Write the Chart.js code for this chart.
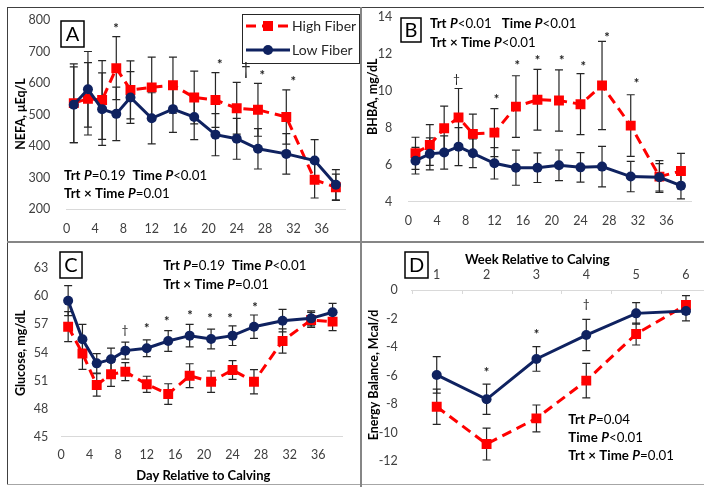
<!DOCTYPE html>
<html>
<head>
<meta charset="utf-8">
<script src="https://cdn.jsdelivr.net/npm/chart.js@4.4.0/dist/chart.umd.min.js"></script>
<style>
  html, body { margin: 0; padding: 0; background: #fff; }
  #wrap { position: relative; width: 704px; height: 487px; overflow: hidden; background: #fff; }
  canvas { position: absolute; }
  .ln { position: absolute; z-index: 5; }
</style>
</head>
<body>
<div id="wrap">
  <canvas id="cA" width="352" height="233" style="left:8px;top:8px"></canvas>
  <canvas id="cB" width="342" height="233" style="left:362px;top:8px"></canvas>
  <canvas id="cC" width="352" height="241" style="left:8px;top:243px"></canvas>
  <canvas id="cD" width="370" height="241" style="left:362px;top:243px"></canvas>
  <div class="ln" style="left:7px;top:7px;width:697px;height:1px;background:#404040"></div>
  <div class="ln" style="left:7px;top:7px;width:1px;height:478px;background:#404040"></div>
  <div class="ln" style="left:7px;top:484px;width:697px;height:1px;background:#a6a6a6"></div>
  <div class="ln" style="left:360px;top:7px;width:2px;height:480px;background:#868686"></div>
  <div class="ln" style="left:7px;top:241px;width:697px;height:2px;background:#868686"></div>
</div>
<script>
// shared x values
const dayTicks = [0, 4, 8, 12, 16, 20, 24, 28, 32, 36];
const days = [1, 3, 5, 7, 9, 12, 15, 18, 21, 24, 27, 31, 35, 38];
const weeks = ['1', '2', '3', '4', '5', '6'];
const seriesNames = ['High Fiber', 'Low Fiber'];

// A: NEFA
const nefaHigh = [536, 550, 546, 647, 578, 586, 593, 554, 546, 520, 515, 492, 293, 269];
const nefaHighSe = [125, 115, 125, 100, 92, 96, 89, 84, 87, 82, 84, 86, 58, 42];
const nefaLow = [531, 580, 517, 502, 554, 488, 517, 492, 436, 423, 391, 375, 354, 277];
const nefaLowSe = [120, 120, 115, 85, 82, 81, 74, 72, 67, 65, 64, 64, 66, 48];
const nefaTicks = [200, 300, 400, 500, 600, 700, 800];
const nefaSigX = [6.96, 21.6, 25.3, 27.6, 32];
const nefaSigY = [781, 668, 642, 631, 612];
const nefaSig = ['*', '*', '†', '*', '*'];

// B: BHBA
const bhbaHigh = [6.62, 7.07, 7.98, 8.56, 7.67, 7.74, 9.15, 9.52, 9.48, 9.28, 10.29, 8.12, 5.36, 5.66];
const bhbaHighSe = [0.87, 1.1, 1.2, 1.57, 1.07, 1.3, 1.67, 1.64, 1.66, 1.65, 2.39, 1.67, 0.86, 0.96];
const bhbaLow = [6.22, 6.59, 6.66, 6.98, 6.62, 6.08, 5.84, 5.84, 5.97, 5.86, 5.9, 5.36, 5.32, 4.87];
const bhbaLowSe = [0.72, 0.87, 0.9, 1.03, 0.78, 0.85, 0.95, 0.8, 0.83, 0.8, 1.1, 0.82, 0.74, 0.72];
const bhbaTicks = [4, 6, 8, 10, 12, 14];
const bhbaSigX = [6.7, 12.3, 15.2, 18, 21.4, 24.4, 27.7, 31.8];
const bhbaSigY = [10.65, 9.7, 11.54, 11.78, 11.78, 11.47, 13.04, 10.55];
const bhbaSig = ['†', '*', '*', '*', '*', '*', '*', '*'];

// C: glucose
const gluHigh = [56.76, 53.9, 50.53, 51.67, 51.95, 50.6, 49.56, 51.52, 50.88, 52.13, 50.88, 55.23, 57.48, 57.3];
const gluHighSe = [1.6, 1.7, 1.2, 1.3, 0.96, 0.86, 1.1, 1.28, 1.14, 1.0, 1.3, 1.3, 0.8, 0.96];
const gluLow = [59.54, 55.41, 52.84, 53.27, 54.2, 54.45, 55.23, 55.8, 55.44, 55.8, 56.76, 57.4, 57.65, 58.3];
const gluLowSe = [1.6, 1.6, 1.05, 1.2, 0.9, 0.9, 1.1, 1.2, 1.05, 1.05, 1.25, 1.2, 0.8, 0.95];
const gluTicks = [45, 48, 51, 54, 57, 60, 63];
const gluSigX = [8.96, 11.99, 14.8, 18.05, 20.85, 23.65, 27.15];
const gluSigY = [56.41, 56.87, 57.65, 58.19, 57.9, 57.9, 59.15];
const gluSig = ['†', '*', '*', '*', '*', '*', '*'];

// D: energy balance by week
const ebHigh = [-8.19, -10.81, -9.01, -6.36, -3.09, -1.05];
const ebHighSe = [1.24, 1.12, 0.94, 1.21, 0.77, 0.65];
const ebLow = [-5.96, -7.67, -4.84, -3.16, -1.64, -1.47];
const ebLowSe = [1.28, 1.06, 0.86, 1.1, 0.75, 0.7];
const ebTicks = [-12, -10, -8, -6, -4, -2, 0];
const ebSigX = [1, 2, 3];
const ebSigY = [-5.61, -2.92, -1.0];
const ebSig = ['*', '*', '†'];

const RED = '#ff0000';
const NAVY = '#0f2260';
const FONT = 'Lato';
const panels = {};

function xy(xs, ys) { return xs.map((x, i) => ({ x: x, y: ys[i] })); }

function highSet(data, se) {
  return { label: seriesNames[0], data: data, errors: se, order: 2,
    borderColor: RED, backgroundColor: RED, borderWidth: 3, borderDash: [10, 6],
    pointStyle: 'rect', pointRadius: 7, pointBorderWidth: 0, tension: 0 };
}
function lowSet(data, se) {
  return { label: seriesNames[1], data: data, errors: se, order: 1,
    borderColor: NAVY, backgroundColor: NAVY, borderWidth: 3,
    pointStyle: 'circle', pointRadius: 5, pointBorderWidth: 0, tension: 0 };
}

function richLine(ctx, x, y, text, size) {
  text.split(/(Trt|Time|×|P)/).forEach(t => {
    if (!t) return;
    let st = 'normal';
    if (t === 'P') st = 'italic bold';
    else if (t === 'Trt' || t === 'Time' || t === '×') st = 'bold';
    ctx.font = st + ' ' + size + 'px ' + FONT;
    ctx.fillText(t, x, y);
    x += ctx.measureText(t).width;
  });
}

const panelPlugin = {
  id: 'panel',
  beforeDatasetsDraw(chart) {
    const ctx = chart.ctx, ys = chart.scales.y;
    ctx.save();
    ctx.strokeStyle = '#262626';
    ctx.lineWidth = 1.2;
    chart.data.datasets.forEach((ds, i) => {
      const meta = chart.getDatasetMeta(i);
      meta.data.forEach((pt, j) => {
        const raw = ds.data[j];
        const v = typeof raw === 'number' ? raw : raw.y;
        const e = ds.errors[j];
        const x = pt.x, y1 = ys.getPixelForValue(v + e), y2 = ys.getPixelForValue(v - e);
        ctx.beginPath();
        ctx.moveTo(x, y1); ctx.lineTo(x, y2);
        ctx.moveTo(x - 4, y1); ctx.lineTo(x + 4, y1);
        ctx.moveTo(x - 4, y2); ctx.lineTo(x + 4, y2);
        ctx.stroke();
      });
    });
    ctx.restore();
  },
  afterDraw(chart) {
    const p = panels[chart.canvas.id], ctx = chart.ctx;
    if (!p) return;
    const ox = p.canvas[0], oy = p.canvas[1];
    const xs = chart.scales.x, ys = chart.scales.y;
    ctx.save();
    ctx.fillStyle = '#000';
    ctx.textBaseline = 'middle';

    // significance marks
    ctx.textAlign = 'center';
    p.sigX.forEach((sx, i) => {
      const m = p.sig[i];
      ctx.font = m === '†' ? p.dagSize + 'px ' + FONT : 'bold 13px ' + FONT;
      ctx.fillStyle = '#1a1a1a';
      ctx.fillText(m, xs.getPixelForValue(sx), ys.getPixelForValue(p.sigY[i]) + (m === '*' ? 3 : 0));
    });

    // panel letter box
    const b = p.box;
    ctx.strokeStyle = '#000';
    ctx.lineWidth = 1.5;
    ctx.strokeRect(b[0] - ox, b[1] - oy, b[2], b[3]);
    ctx.fillStyle = '#000';
    ctx.font = '20px ' + FONT;
    ctx.fillText(p.letter, b[0] - ox + b[2] / 2, b[1] - oy + b[3] / 2 + 1);

    // y title
    ctx.save();
    ctx.translate(p.yTitle[0] - ox, p.yTitle[1] - oy);
    ctx.rotate(-Math.PI / 2);
    ctx.font = 'bold 12.5px ' + FONT;
    ctx.fillText(p.yTitle[2], 0, 0);
    ctx.restore();

    if (p.xTitle) {
      ctx.font = 'bold 13px ' + FONT;
      ctx.fillText(p.xTitle[2], p.xTitle[0] - ox, p.xTitle[1] - oy);
    }

    // statistics text
    ctx.textAlign = 'left';
    p.stats.forEach((s, i) => richLine(ctx, p.statPos[0] - ox, p.statPos[1] - oy + i * p.statPos[2], s, 13.3));

    // category boundary ticks for the week axis
    if (p.weekTicks) {
      ctx.strokeStyle = '#d9d9d9';
      ctx.lineWidth = 1;
      const top = chart.chartArea.top;
      for (let k = 0; k <= weeks.length; k++) {
        const x = Math.round(xs.getPixelForValue(k - 0.5)) + 0.5;
        ctx.beginPath(); ctx.moveTo(x, top); ctx.lineTo(x, top + 4); ctx.stroke();
      }
    }

    // legend
    if (p.legend) {
      const L = p.legend;
      const lx = L[0] - ox, ly = L[1] - oy;
      ctx.strokeStyle = '#262626';
      ctx.lineWidth = 1;
      ctx.strokeRect(lx + 0.5, ly + 0.5, L[2], L[3]);
      const rows = [ly + 12, ly + 36];
      ctx.strokeStyle = RED; ctx.lineWidth = 3; ctx.setLineDash([10, 6]);
      ctx.beginPath(); ctx.moveTo(lx + 4, rows[0]); ctx.lineTo(lx + 47, rows[0]); ctx.stroke();
      ctx.setLineDash([]);
      ctx.fillStyle = RED; ctx.fillRect(lx + 21, rows[0] - 5, 10, 10);
      ctx.strokeStyle = NAVY;
      ctx.beginPath(); ctx.moveTo(lx + 4, rows[1]); ctx.lineTo(lx + 48, rows[1]); ctx.stroke();
      ctx.fillStyle = NAVY; ctx.beginPath(); ctx.arc(lx + 26, rows[1], 5, 0, Math.PI * 2); ctx.fill();
      ctx.fillStyle = '#262626';
      ctx.font = '14px ' + FONT;
      ctx.fillText(seriesNames[0], lx + 50, rows[0]);
      ctx.fillText(seriesNames[1], lx + 50, rows[1]);
    }
    ctx.restore();
  }
};

function makeChart(id, p) {
  panels[id] = p;
  const c = p.canvas, a = p.area;
  const cw = c[2], ch = c[3];
  const left = a[0] - c[0], right = a[1] - c[0], top = a[2] - c[1], bottom = a[3] - c[1];
  const xTop = p.xPos === 'top';
  const tickFont = { family: FONT, size: 12.5 };
  const xScale = p.xType === 'category'
    ? { type: 'category', position: 'top', offset: true }
    : { type: 'linear', min: 0, max: 39.4,
        afterBuildTicks: s => { s.ticks = dayTicks.map(v => ({ value: v })); } };
  Object.assign(xScale, {
    grid: { display: false, drawTicks: false },
    border: { display: true, color: '#d9d9d9', width: 1 },
    ticks: { font: tickFont, color: '#404040', padding: p.xPad, maxRotation: 0, autoSkip: false },
    afterFit: s => { s.height = xTop ? top : ch - bottom; }
  });
  return new Chart(document.getElementById(id), {
    type: 'line',
    data: { labels: p.labels, datasets: p.datasets },
    options: {
      responsive: false, animation: false, events: [],
      layout: { padding: { left: 0, top: xTop ? 0 : top, right: cw - right, bottom: xTop ? ch - bottom : 0 } },
      plugins: { legend: { display: false }, tooltip: { enabled: false } },
      scales: {
        x: xScale,
        y: {
          type: 'linear', min: p.yTicks[0], max: p.yTicks[p.yTicks.length - 1],
          afterBuildTicks: s => { s.ticks = p.yTicks.map(v => ({ value: v })); },
          grid: { display: false, drawTicks: true, tickLength: p.yPad },
          border: { display: false },
          ticks: { font: tickFont, color: '#404040', padding: 0 },
          afterFit: s => { s.width = left; }
        }
      }
    },
    plugins: [panelPlugin]
  });
}

makeChart('cA', {
  canvas: [8, 8, 352, 233], area: [66.7, 345.8, 20, 209], xPad: 12.5, yPad: 16.5,
  yTicks: nefaTicks,
  datasets: [highSet(xy(days, nefaHigh), nefaHighSe), lowSet(xy(days, nefaLow), nefaLowSe)],
  sigX: nefaSigX, sigY: nefaSigY, sig: nefaSig, dagSize: 17,
  box: [61, 21, 23, 26], letter: 'A',
  yTitle: [20.7, 114, 'NEFA, μEq/L'],
  stats: ['Trt P=0.19  Time P<0.01', 'Trt × Time P=0.01'], statPos: [64, 175.7, 18],
  legend: [242, 14, 117, 49]
});

makeChart('cB', {
  canvas: [362, 8, 342, 233], area: [408.3, 691, 17, 201.7], xPad: 12, yPad: 16,
  yTicks: bhbaTicks,
  datasets: [highSet(xy(days, bhbaHigh), bhbaHighSe), lowSet(xy(days, bhbaLow), bhbaLowSe)],
  sigX: bhbaSigX, sigY: bhbaSigY, sig: bhbaSig, dagSize: 12,
  box: [401, 18, 20, 24], letter: 'B',
  yTitle: [373.3, 96.7, 'BHBA, mg/dL'],
  stats: ['Trt P<0.01   Time P<0.01', 'Trt × Time P<0.01'], statPos: [430, 23.3, 19.4]
});

makeChart('cC', {
  canvas: [8, 243, 352, 241], area: [61, 342.6, 268.3, 436.7], xPad: 11, yPad: 12.7,
  yTicks: gluTicks,
  datasets: [highSet(xy(days, gluHigh), gluHighSe), lowSet(xy(days, gluLow), gluLowSe)],
  sigX: gluSigX, sigY: gluSigY, sig: gluSig, dagSize: 12,
  box: [60, 252, 22, 26], letter: 'C',
  yTitle: [21.3, 353, 'Glucose, mg/dL'],
  xTitle: [203.3, 475.7, 'Day Relative to Calving'],
  stats: ['Trt P=0.19  Time P<0.01', 'Trt × Time P=0.01'], statPos: [163.3, 266, 19]
});

makeChart('cD', {
  canvas: [362, 243, 370, 241], area: [411.8, 710.9, 290, 461], xPad: 7.8, yPad: 14,
  xType: 'category', xPos: 'top', labels: weeks,
  yTicks: ebTicks,
  datasets: [highSet(ebHigh, ebHighSe), lowSet(ebLow, ebLowSe)],
  sigX: ebSigX, sigY: ebSigY, sig: ebSig, dagSize: 12,
  box: [405, 252, 23, 26], letter: 'D',
  yTitle: [374, 375, 'Energy Balance, Mcal/d'],
  xTitle: [537.3, 260, 'Week Relative to Calving'],
  stats: ['Trt P=0.04', 'Time P<0.01', 'Trt × Time P=0.01'], statPos: [568.3, 419.3, 18.4],
  weekTicks: true
});
</script>
</body>
</html>
